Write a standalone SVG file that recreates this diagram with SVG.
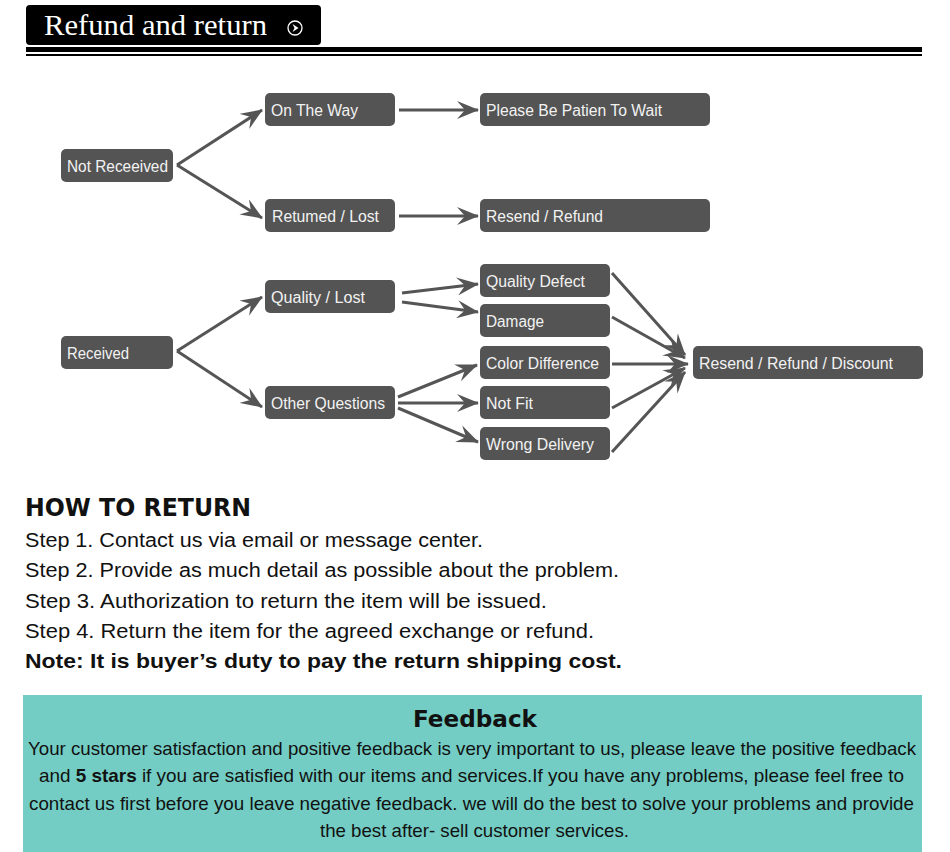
<svg xmlns="http://www.w3.org/2000/svg" width="950" height="852" viewBox="0 0 950 852">
<style>
.node rect{fill:#545454}
.node text{fill:#f2f2f2;font-family:"Liberation Sans",Arial,sans-serif;font-size:16px}
.conn line{stroke:#555;stroke-width:3}
.step{font-family:"Liberation Sans",Arial,sans-serif;font-size:20px;fill:#111}
.fb{font-family:"Liberation Sans",Arial,sans-serif;font-size:19px;fill:#111}
</style>
<defs>
<marker id="ah" viewBox="0 0 22 18" refX="21" refY="9" markerWidth="22" markerHeight="18" markerUnits="userSpaceOnUse" orient="auto">
<path d="M0,0 L22,9 L0,18 L8,9 Z" fill="#555"/>
</marker>
</defs>
<rect width="950" height="852" fill="#fff"/>
<g id="header">
<rect x="26" y="5" width="295" height="40" rx="4" fill="#000"/>
<text x="44" y="35" fill="#fff" font-family="'Liberation Serif','Times New Roman',serif" font-size="29" textLength="223" lengthAdjust="spacingAndGlyphs">Refund and return</text>
<circle cx="295" cy="28" r="7" fill="none" stroke="#fff" stroke-width="1.3"/>
<path d="M292.5,24 L298.5,28 L292.5,32 L294.5,28 Z" fill="#fff"/>
<rect x="26" y="47" width="896" height="5" fill="#000"/>
<rect x="26" y="54" width="896" height="2" fill="#000"/>
</g>
<g id="connectors" class="conn">
<line x1="177" y1="165" x2="262" y2="110" marker-end="url(#ah)"/>
<line x1="177" y1="165" x2="262" y2="218" marker-end="url(#ah)"/>
<line x1="399" y1="110" x2="478" y2="110" marker-end="url(#ah)"/>
<line x1="399" y1="216" x2="478" y2="216" marker-end="url(#ah)"/>
<line x1="177" y1="351" x2="262" y2="297" marker-end="url(#ah)"/>
<line x1="177" y1="351" x2="262" y2="407" marker-end="url(#ah)"/>
<line x1="402" y1="293" x2="478" y2="284" marker-end="url(#ah)"/>
<line x1="402" y1="302" x2="478" y2="312" marker-end="url(#ah)"/>
<line x1="398" y1="397" x2="477" y2="365" marker-end="url(#ah)"/>
<line x1="398" y1="403" x2="478" y2="403" marker-end="url(#ah)"/>
<line x1="398" y1="408" x2="478" y2="442" marker-end="url(#ah)"/>
<line x1="612" y1="273" x2="685" y2="355" marker-end="url(#ah)"/>
<line x1="612" y1="317" x2="685" y2="358" marker-end="url(#ah)"/>
<line x1="612" y1="364" x2="688" y2="364" marker-end="url(#ah)"/>
<line x1="612" y1="408" x2="685" y2="368" marker-end="url(#ah)"/>
<line x1="612" y1="452" x2="685" y2="372" marker-end="url(#ah)"/>
</g>
<g id="n-notreceived" class="node"><rect x="61" y="149" width="112" height="33" rx="5"/><text x="67" y="172" textLength="101" lengthAdjust="spacingAndGlyphs">Not Receeived</text></g>
<g id="n-ontheway" class="node"><rect x="265" y="93" width="130" height="33" rx="5"/><text x="271" y="116" textLength="87" lengthAdjust="spacingAndGlyphs">On The Way</text></g>
<g id="n-returned" class="node"><rect x="265" y="199" width="130" height="33" rx="5"/><text x="272" y="222" textLength="107" lengthAdjust="spacingAndGlyphs">Retumed / Lost</text></g>
<g id="n-wait" class="node"><rect x="480" y="93" width="230" height="33" rx="5"/><text x="486" y="116" textLength="176" lengthAdjust="spacingAndGlyphs">Please Be Patien To Wait</text></g>
<g id="n-resendrefund" class="node"><rect x="480" y="199" width="230" height="33" rx="5"/><text x="486" y="222" textLength="117" lengthAdjust="spacingAndGlyphs">Resend / Refund</text></g>
<g id="n-received" class="node"><rect x="61" y="336" width="112" height="33" rx="5"/><text x="67" y="359" textLength="62" lengthAdjust="spacingAndGlyphs">Received</text></g>
<g id="n-qualitylost" class="node"><rect x="265" y="280" width="130" height="33" rx="5"/><text x="271" y="303" textLength="94" lengthAdjust="spacingAndGlyphs">Quality / Lost</text></g>
<g id="n-other" class="node"><rect x="265" y="386" width="130" height="33" rx="5"/><text x="271" y="409" textLength="114" lengthAdjust="spacingAndGlyphs">Other Questions</text></g>
<g id="n-defect" class="node"><rect x="480" y="264" width="130" height="33" rx="5"/><text x="486" y="287" textLength="99" lengthAdjust="spacingAndGlyphs">Quality Defect</text></g>
<g id="n-damage" class="node"><rect x="480" y="304" width="130" height="33" rx="5"/><text x="486" y="327" textLength="58" lengthAdjust="spacingAndGlyphs">Damage</text></g>
<g id="n-color" class="node"><rect x="480" y="346" width="130" height="33" rx="5"/><text x="486" y="369" textLength="113" lengthAdjust="spacingAndGlyphs">Color Difference</text></g>
<g id="n-notfit" class="node"><rect x="480" y="386" width="130" height="33" rx="5"/><text x="486" y="409" textLength="47" lengthAdjust="spacingAndGlyphs">Not Fit</text></g>
<g id="n-wrong" class="node"><rect x="480" y="427" width="130" height="33" rx="5"/><text x="486" y="450" textLength="108" lengthAdjust="spacingAndGlyphs">Wrong Delivery</text></g>
<g id="n-final" class="node"><rect x="693" y="346" width="230" height="33" rx="5"/><text x="699" y="369" textLength="194" lengthAdjust="spacingAndGlyphs">Resend / Refund / Discount</text></g>
<g id="howto">
<text x="25" y="516" font-family="'DejaVu Sans',Verdana,sans-serif" font-weight="bold" font-size="24" fill="#111" textLength="226" lengthAdjust="spacingAndGlyphs">HOW TO RETURN</text>
<text class="step" x="25" y="547" textLength="458" lengthAdjust="spacingAndGlyphs">Step 1. Contact us via email or message center.</text>
<text class="step" x="25" y="577" textLength="594" lengthAdjust="spacingAndGlyphs">Step 2. Provide as much detail as possible about the problem.</text>
<text class="step" x="25" y="608" textLength="522" lengthAdjust="spacingAndGlyphs">Step 3. Authorization to return the item will be issued.</text>
<text class="step" x="25" y="638" textLength="569" lengthAdjust="spacingAndGlyphs">Step 4. Return the item for the agreed exchange or refund.</text>
<text class="step" x="25" y="668" font-weight="bold" textLength="597" lengthAdjust="spacingAndGlyphs">Note: It is buyer’s duty to pay the return shipping cost.</text>
</g>
<g id="feedback">
<rect x="23" y="695" width="899" height="157" fill="#73cdc4"/>
<text x="475" y="727" text-anchor="middle" font-family="'DejaVu Sans',Verdana,sans-serif" font-weight="bold" font-size="23" fill="#111" textLength="124" lengthAdjust="spacingAndGlyphs">Feedback</text>
<text class="fb" x="28" y="755" textLength="888" lengthAdjust="spacingAndGlyphs">Your customer satisfaction and positive feedback is very important to us, please leave the positive feedback</text>
<text class="fb" x="39" y="782" textLength="865" lengthAdjust="spacingAndGlyphs">and <tspan font-weight="bold">5 stars</tspan> if you are satisfied with our items and services.If you have any problems, please feel free to</text>
<text class="fb" x="29" y="810" textLength="885" lengthAdjust="spacingAndGlyphs">contact us first before you leave negative feedback. we will do the best to solve your problems and provide</text>
<text class="fb" x="320" y="837" textLength="309" lengthAdjust="spacingAndGlyphs">the best after- sell customer services.</text>
</g>
</svg>
